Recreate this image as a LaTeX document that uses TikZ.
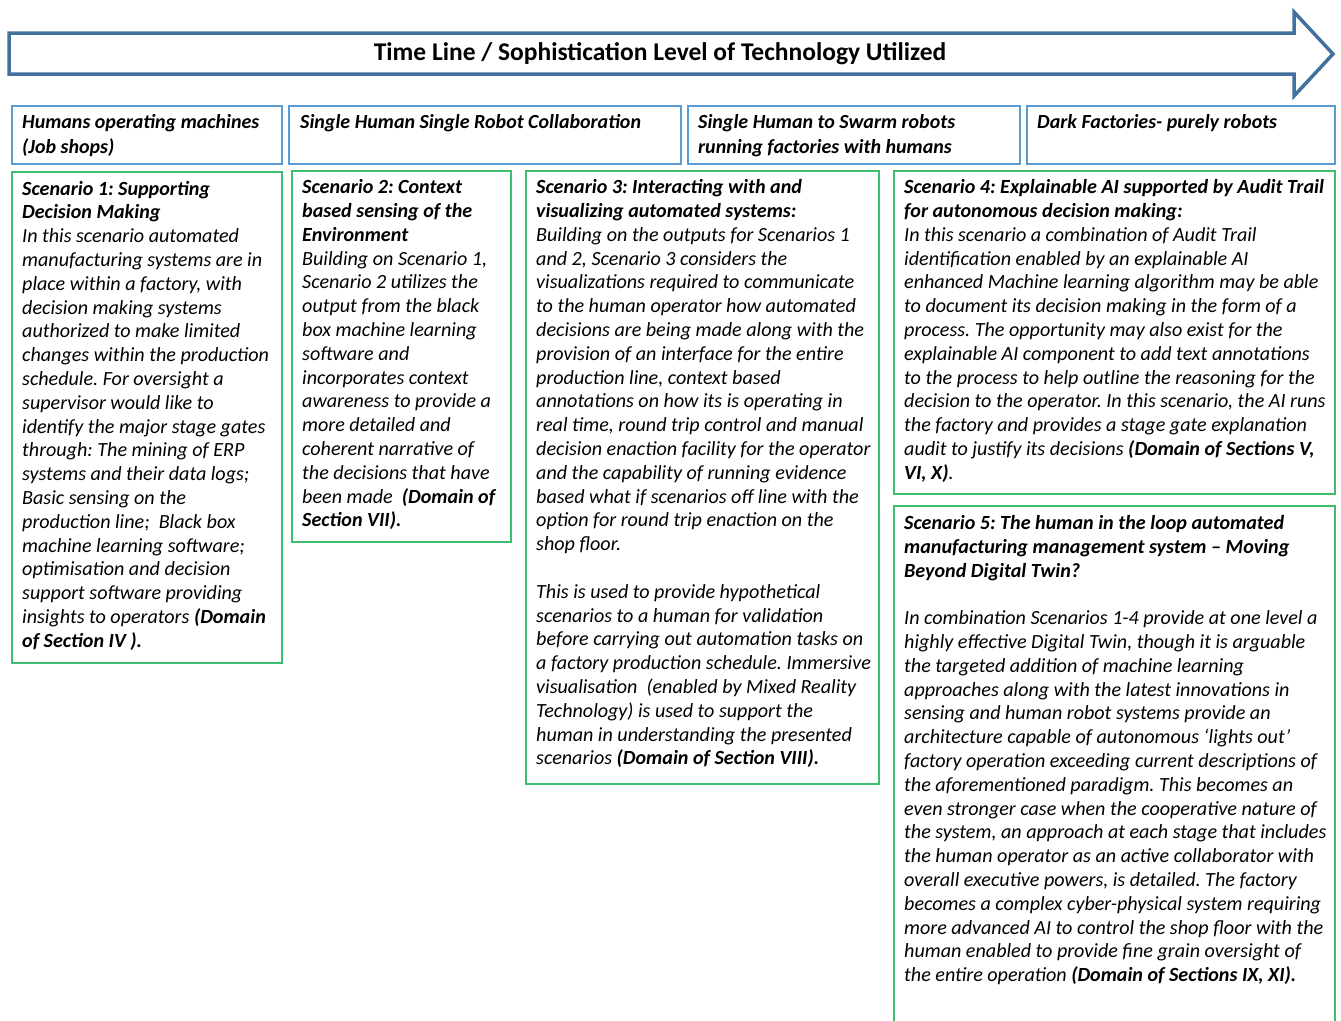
\documentclass[tikz,border=0pt]{standalone}
\usepackage{fontspec}
\setmainfont{Carlito}
\frenchspacing
\definecolor{arrowblue}{RGB}{65,113,156}
\definecolor{stageblue}{RGB}{91,155,213}
\definecolor{scengreen}{RGB}{60,190,110}
\begin{document}
\begin{tikzpicture}[x=1pt,y=-1pt,
    stage/.style={draw=stageblue,line width=1.3pt},
    scen/.style={draw=scengreen,line width=1.3pt},
    txt/.style={anchor=north west,inner sep=0pt,align=left,
      font=\fontsize{20.1}{23.8}\selectfont\itshape}]
  \useasboundingbox (0,0) rectangle (1341,1020);
  % time line arrow
  \draw[arrowblue,line width=3.5pt,fill=white,line join=miter]
    (9,33) -- (1294,33) -- (1294,12) -- (1333,54) -- (1294,96)
    -- (1294,74) -- (9,74) -- cycle;
  \node[anchor=base,inner sep=0pt,font=\fontsize{25.5}{30}\selectfont\bfseries]
    (title) at (660,60) {Time Line / Sophistication Level of Technology Utilized};
  % stages
  \draw[stage] (12,106) rectangle (282,164);
  \draw[stage] (289,106) rectangle (681,164);
  \draw[stage] (688,106) rectangle (1020,164);
  \draw[stage] (1027,106) rectangle (1335,164);
  \node[txt,font=\fontsize{20}{24.4}\selectfont\bfseries\itshape] (h1) at (22,111.6)
    {\strut Humans operating machines\\(Job shops)};
  \node[txt,font=\fontsize{20}{24.4}\selectfont\bfseries\itshape] (h2) at (300,111.6)
    {\strut Single Human Single Robot Collaboration};
  \node[txt,font=\fontsize{20}{24.4}\selectfont\bfseries\itshape] (h3) at (698,111.6)
    {\strut Single Human to Swarm robots\\running factories with humans};
  \node[txt,font=\fontsize{20}{24.4}\selectfont\bfseries\itshape] (h4) at (1037,111.6)
    {\strut Dark Factories- purely robots};
  % scenarios
  \draw[scen] (12,172) rectangle (282,663);
  \draw[scen] (292,171) rectangle (511,542);
  \draw[scen] (526,171) rectangle (879,784);
  \draw[scen] (894,171) rectangle (1335,494);
  \draw[scen] (894,1021) -- (894,506) -- (1335,506) -- (1335,1021);
  \node[txt] (s1) at (22,178.3) {\strut\textbf{Scenario 1: Supporting}\\
    \textbf{Decision Making}\\
    In this scenario automated\\
    manufacturing systems are in\\
    place within a factory, with\\
    decision making systems\\
    authorized to make limited\\
    changes within the production\\
    schedule. For oversight a\\
    supervisor would like to\\
    identify the major stage gates\\
    through: The mining of ERP\\
    systems and their data logs;\\
    Basic sensing on the\\
    production line;\ \ Black box\\
    machine learning software;\\
    optimisation and decision\\
    support software providing\\
    insights to operators \textbf{(Domain}\\
    \textbf{of Section IV ).}};
  \node[txt] (s2) at (302,176.8) {\strut\textbf{Scenario 2: Context}\\
    \textbf{based sensing of the}\\
    \textbf{Environment}\\
    Building on Scenario 1,\\
    Scenario 2 utilizes the\\
    output from the black\\
    box machine learning\\
    software and\\
    incorporates context\\
    awareness to provide a\\
    more detailed and\\
    coherent narrative of\\
    the decisions that have\\
    been made\ \ \textbf{(Domain of}\\
    \textbf{Section VII).}};
  \node[txt] (s3) at (536,176.8) {\strut\textbf{Scenario 3: Interacting with and}\\
    \textbf{visualizing automated systems:}\\
    Building on the outputs for Scenarios 1\\
    and 2, Scenario 3 considers the\\
    visualizations required to communicate\\
    to the human operator how automated\\
    decisions are being made along with the\\
    provision of an interface for the entire\\
    production line, context based\\
    annotations on how its is operating in\\
    real time, round trip control and manual\\
    decision enaction facility for the operator\\
    and the capability of running evidence\\
    based what if scenarios off line with the\\
    option for round trip enaction on the\\
    shop floor.\\[23.8pt]
    This is used to provide hypothetical\\
    scenarios to a human for validation\\
    before carrying out automation tasks on\\
    a factory production schedule. Immersive\\
    visualisation\ \ (enabled by Mixed Reality\\
    Technology) is used to support the\\
    human in understanding the presented\\
    scenarios \textbf{(Domain of Section VIII).}};
  \node[txt] (s4) at (904,176.8) {\strut\textbf{Scenario 4: Explainable AI supported by Audit Trail}\\
    \textbf{for autonomous decision making:}\\
    In this scenario a combination of Audit Trail\\
    identification enabled by an explainable AI\\
    enhanced Machine learning algorithm may be able\\
    to document its decision making in the form of a\\
    process. The opportunity may also exist for the\\
    explainable AI component to add text annotations\\
    to the process to help outline the reasoning for the\\
    decision to the operator. In this scenario, the AI runs\\
    the factory and provides a stage gate explanation\\
    audit to justify its decisions \textbf{(Domain of Sections V,}\\
    \textbf{VI, X)}.};
  \node[txt] (s5) at (904,512.6) {\strut\textbf{Scenario 5: The human in the loop automated}\\
    \textbf{manufacturing management system – Moving}\\
    \textbf{Beyond Digital Twin?}\\[23.8pt]
    In combination Scenarios 1-4 provide at one level a\\
    highly effective Digital Twin, though it is arguable\\
    the targeted addition of machine learning\\
    approaches along with the latest innovations in\\
    sensing and human robot systems provide an\\
    architecture capable of autonomous ‘lights out’\\
    factory operation exceeding current descriptions of\\
    the aforementioned paradigm. This becomes an\\
    even stronger case when the cooperative nature of\\
    the system, an approach at each stage that includes\\
    the human operator as an active collaborator with\\
    overall executive powers, is detailed. The factory\\
    becomes a complex cyber-physical system requiring\\
    more advanced AI to control the shop floor with the\\
    human enabled to provide fine grain oversight of\\
    the entire operation \textbf{(Domain of Sections IX, XI).}};
\end{tikzpicture}
\end{document}
